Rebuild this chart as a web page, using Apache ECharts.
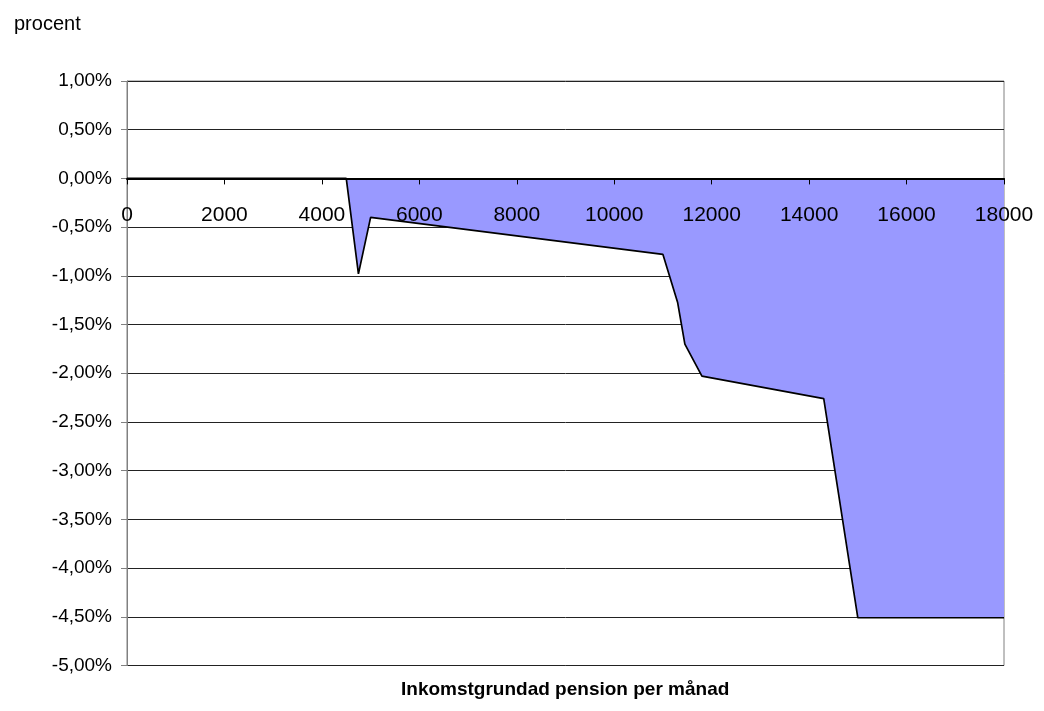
<!DOCTYPE html>
<html>
<head>
<meta charset="utf-8">
<script src="https://cdn.jsdelivr.net/npm/echarts@6/dist/echarts.min.js"></script>
<style>
html,body{margin:0;padding:0;background:#fff;}
#chart{width:1044px;height:711px;}
</style>
</head>
<body>
<div id="chart"></div>
<script>
// Income-based pension per month (kr)
var incomes = [0, 4500, 4750, 5000, 11000, 11300, 11450, 11800, 14300, 15000, 18000];
// Change in percent
var changes = [0, 0, -0.98, -0.40, -0.78, -1.27, -1.70, -2.03, -2.26, -4.51, -4.51];
var yTitle = 'procent';
var xTitle = 'Inkomstgrundad pension per månad';

var seriesData = incomes.map(function (x, i) { return [x, changes[i]]; });
var FONT = '"Liberation Sans", Arial, sans-serif';

var GRID_TOP = 81, GRID_BOTTOM = 45.5, H = 711;
var YMIN = -5, YMAX = 1;
var plotH = H - GRID_TOP - GRID_BOTTOM;
var zeroY = GRID_TOP + plotH * (YMAX - 0) / (YMAX - YMIN);
var xOffset = -((H - GRID_BOTTOM) - zeroY);

var chart = echarts.init(document.getElementById('chart'), null, {renderer: 'canvas'});
chart.setOption({
  animation: false,
  backgroundColor: '#ffffff',
  title: {
    text: yTitle,
    left: 9,
    top: 9,
    textStyle: {fontFamily: FONT, fontSize: 20, fontWeight: 'normal', color: '#000'}
  },
  grid: {
    left: 127, right: 40, top: GRID_TOP, bottom: GRID_BOTTOM,
    show: true, borderColor: '#808080', borderWidth: 1, backgroundColor: 'transparent'
  },
  xAxis: {
    type: 'value',
    min: 0, max: 18000, interval: 2000,
    position: 'bottom',
    offset: xOffset,
    z: 5,
    axisLine: {onZero: false, lineStyle: {color: '#000', width: 2}},
    axisTick: {show: true, length: 6, lineStyle: {color: '#000', width: 1}},
    axisLabel: {
      margin: 26, fontFamily: FONT, fontSize: 21, color: '#000',
      showMinLabel: true, showMaxLabel: true,
      formatter: function (v) { return String(v); }
    },
    splitLine: {show: false}
  },
  yAxis: {
    type: 'value',
    min: YMIN, max: YMAX, interval: 0.5,
    axisLine: {show: true, onZero: false, lineStyle: {color: '#808080', width: 1}},
    axisTick: {show: true, length: 6, lineStyle: {color: '#808080'}},
    axisLabel: {
      margin: 15, fontFamily: FONT, fontSize: 19, color: '#000',
      formatter: function (v) { return v.toFixed(2).replace('.', ',') + '%'; }
    },
    splitLine: {show: true, lineStyle: {color: '#222', width: 1}}
  },
  graphic: [{
    type: 'text',
    left: 401,
    top: 680,
    style: {
      text: xTitle,
      fontFamily: FONT, fontSize: 19, fontWeight: 'bold', fill: '#000'
    }
  }],
  series: [{
    type: 'line',
    data: seriesData,
    symbol: 'none',
    lineStyle: {color: '#000', width: 1.7},
    areaStyle: {color: '#9999ff', opacity: 1, origin: 0},
    z: 2
  }]
});
</script>
</body>
</html>
